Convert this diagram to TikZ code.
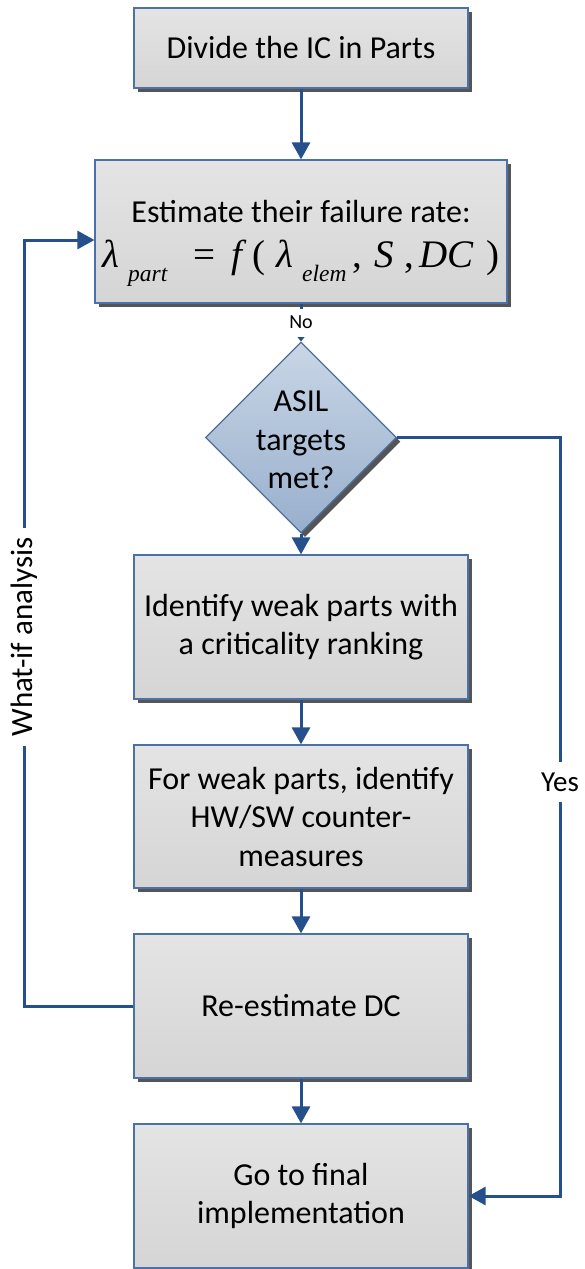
\documentclass[tikz,border=0pt]{standalone}
\usepackage{fontspec}
\setmainfont{Carlito}
\newfontfamily\fmlfont{Liberation Serif}
\usetikzlibrary{shapes.geometric,arrows.meta,shadows}
\definecolor{linkblue}{HTML}{25508C}
\definecolor{edgeblue}{HTML}{4A72A8}
\definecolor{shadowgray}{HTML}{555555}
\definecolor{boxtop}{HTML}{E4E4E4}
\definecolor{boxbot}{HTML}{D5D5D5}
\definecolor{diatop}{HTML}{C9D6E6}
\definecolor{diabot}{HTML}{98AFCC}
\definecolor{diaedge}{HTML}{4D6F9B}
\newcommand\boxfont{\fontsize{32}{38.5}\selectfont}
\begin{document}
\begin{tikzpicture}[x=1pt,y=-1pt,
  procbox/.style={draw=edgeblue, line width=1.2pt, top color=boxtop, bottom color=boxbot,
    minimum width=334pt, inner sep=0pt, align=center, font=\boxfont,
    drop shadow={shadow xshift=4pt, shadow yshift=-4pt, fill=shadowgray, opacity=1}},
  decision/.style={diamond, aspect=1, draw=diaedge, line width=1.2pt, top color=diatop, bottom color=diabot,
    minimum width=191pt, minimum height=191pt, inner sep=0pt,
    drop shadow={shadow xshift=4pt, shadow yshift=-4pt, fill=shadowgray, opacity=1}},
  flow/.style={draw=linkblue, line width=3pt, -{Triangle[length=17pt,width=18pt]}},
  thinflow/.style={draw=linkblue, line width=3pt, -{Triangle[length=5pt,width=8pt]}},
  nolabel/.style={fill=white, inner sep=0pt, minimum height=28pt, minimum width=26pt, font=\fontsize{20}{24}\selectfont},
  yeslabel/.style={fill=white, inner sep=0pt, minimum height=40pt, minimum width=40pt, font=\fontsize{29}{35}\selectfont},
  whatlabel/.style={fill=white, inner xsep=9pt, inner ysep=0pt, font=\fontsize{31}{36}\selectfont},
  fml/.style={anchor=base west, inner sep=0pt, font=\fmlfont\fontsize{39}{44}\selectfont},
  fmlit/.style={anchor=base west, inner sep=0pt, font=\fmlfont\itshape\fontsize{39}{44}\selectfont},
  fmlsub/.style={anchor=base west, inner sep=0pt, font=\fmlfont\itshape\fontsize{23.5}{27}\selectfont},
  plaintext/.style={anchor=base, inner sep=0pt, font=\boxfont}
]
\useasboundingbox (0,0) rectangle (584,1269);

% boxes
\node[procbox, minimum height=80pt] (b1) at (301,48) {Divide the IC in Parts};
\node[procbox, minimum width=412pt, minimum height=143pt] (b2) at (301,231.5) {};
\node[plaintext] (b2t) at (301,222) {Estimate their failure rate:};
\node[fmlit] (f1) at (102,267) {λ};
\node[fmlsub] (f2) at (128,281) {part};
\node[fml] (f3) at (193,267) {=};
\node[fmlit] (f4) at (231,267) {f};
\node[fml] (f5) at (252,267) {(};
\node[fmlit] (f6) at (276,267) {λ};
\node[fmlsub] (f7) at (302,281) {elem};
\node[fml] (f8) at (352,267) {,};
\node[fmlit] (f9) at (374,267) {S};
\node[fml] (f10) at (404,267) {,};
\node[fmlit] (f11) at (419,267) {DC};
\node[fml] (f12) at (486,267) {)};

\node[decision] (d) at (301,437.5) {};
\node[font=\boxfont, align=center, inner sep=0pt] (dt) at (301,440) {ASIL\\targets\\met?};

\node[procbox, minimum height=144pt] (b3) at (301,627) {Identify weak parts with\\a criticality ranking};
\node[procbox, minimum height=143pt] (b4) at (301,816.5) {For weak parts, identify\\HW/SW counter-\\measures};
\node[procbox, minimum height=144pt] (b5) at (301,1006) {Re-estimate DC};
\node[procbox, minimum height=144pt] (b6) at (301,1196) {Go to final\\implementation};

% connectors
\draw[flow] (b1) -- (b2);
\draw[thinflow] (b2.south) -- node[nolabel] (no) {No} (d.north);
\draw[flow] (d.south) -- (b3.north);
\draw[flow] (b3) -- (b4);
\draw[flow] (b4) -- (b5);
\draw[flow] (b5) -- (b6);

\coordinate (yc) at (560,1196);
\draw[flow] (d.east) -| (yc) -- (b6.east);
\node[yeslabel] (yes) at (560,782) {Yes};

\coordinate (lb) at (24,1006);
\coordinate (lt) at (24,240);
\draw[flow] (b5.west) -- (lb) -- (lt) -- (lt -| b2.west);
\node[whatlabel, rotate=90] (wi) at (24,637) {What-if analysis};
\end{tikzpicture}
\end{document}
